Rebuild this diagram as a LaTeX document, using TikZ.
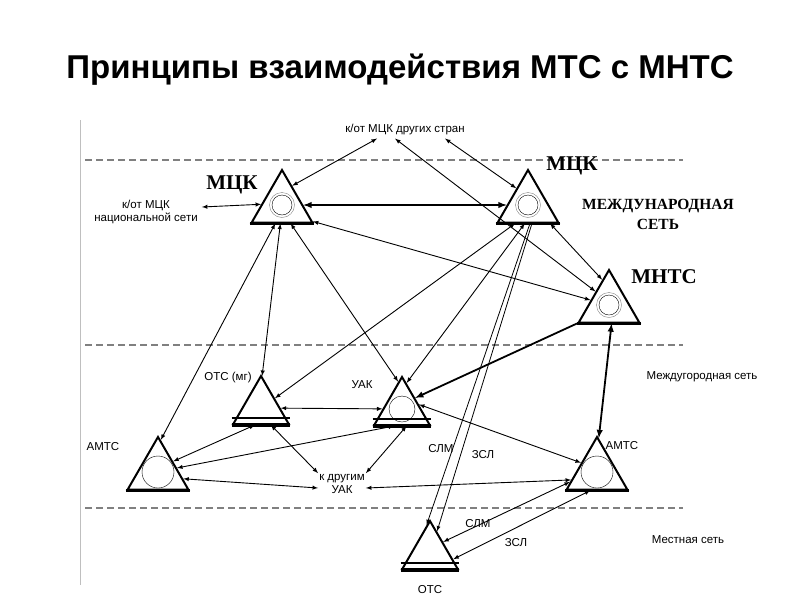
\documentclass[tikz,border=0pt]{standalone}
\usepackage{fontspec}
\setmainfont{Liberation Sans}
\newfontfamily\serifb{Liberation Serif}
\usetikzlibrary{shapes.geometric}
\tikzset{
  stn/.style={regular polygon, regular polygon sides=3, draw, line width=2pt,
    minimum size=70pt, inner sep=0pt},
  small/.style={stn, minimum size=64pt},
  lbl/.style={font=\fontsize{11.5}{13}\selectfont, align=center, inner sep=1pt},
  big/.style={font=\serifb\bfseries\fontsize{21}{22}\selectfont, align=center, inner sep=1pt},
  ln/.style={<->, >=latex, line width=0.9pt},
  tk/.style={<->, >=latex, line width=1.8pt},
  zone/.style={dashed, gray, line width=1.2pt, dash pattern=on 7pt off 4pt}
}
\begin{document}
\begin{tikzpicture}[x=1pt,y=-1pt]
  \useasboundingbox (0,0) rectangle (800,600);
  \node[font=\bfseries\fontsize{33}{36}\selectfont] (title) at (400,70) {Принципы взаимодействия МТС с МНТС};

  %Zones
  \draw[gray!50] (80,120) -- (80,585);
  \draw[zone] (85,160) -- (683,160);
  \draw[zone] (85,345) -- (683,345);
  \draw[zone] (85,508) -- (683,508);

  %Stations
  \node[stn] (m1) at (282,205) {};
  \node[stn] (m2) at (528,205) {};
  \node[stn] (mn) at (609,305) {};
  \node[small] (om) at (261,408) {};
  \node[small] (uak) at (402,409) {};
  \node[stn] (al) at (158,472) {};
  \node[stn] (ar) at (597,472) {};
  \node[small] (ob) at (430,553) {};
  \foreach \s in {m1,m2,mn,om,uak,al,ar,ob}
    \draw[line width=3.5pt] (\s.corner 2) -- (\s.corner 3);
  \foreach \s in {om,uak,ob}
    \draw[line width=2pt] ([yshift=7pt]\s.corner 2) -- ([yshift=7pt]\s.corner 3);
  \foreach \s in {m1,m2,mn} {
    \draw[gray] (\s) circle (12.5pt);
    \draw (\s) circle (10pt);
  }
  \draw (uak) circle (13pt);
  \draw (al) circle (16pt);
  \draw (ar) circle (16pt);

  %Labels
  \node[big] (lm1) at (232,185) {МЦК};
  \node[big] (lm2) at (572,166) {МЦК};
  \node[big] (lmn) at (664,277) {МНТС};
  \node[big, font=\serifb\bfseries\fontsize{15.5}{20}\selectfont] (lint) at (658,214) {МЕЖДУНАРОДНАЯ\\СЕТЬ};
  \node[lbl] (tl) at (405,130) {к/от МЦК других стран};
  \node[lbl] (nat) at (146,212) {к/от МЦК\\национальной сети};
  \node[lbl] (lom) at (228,378) {ОТС (мг)};
  \node[lbl] (luak) at (362,385) {УАК};
  \node[lbl] (lal) at (103,447) {АМТС};
  \node[lbl] (lar) at (622,446) {АМТС};
  \node[lbl] (kdr) at (342,484) {к другим\\УАК};
  \node[lbl] (lob) at (430,590) {ОТС};
  \node[lbl] (s1) at (441,449) {СЛМ};
  \node[lbl] (z1) at (483,455) {ЗСЛ};
  \node[lbl] (s2) at (478,524) {СЛМ};
  \node[lbl] (z2) at (516,543) {ЗСЛ};
  \node[lbl] (lmg) at (702,377) {Междугородная сеть};
  \node[lbl] (lms) at (688,540) {Местная сеть};

  %Lines
  \draw[ln] ([xshift=-28pt,yshift=-2pt]tl.south) -- (m1.62);
  \draw[ln] ([xshift=-10pt,yshift=-2pt]tl.south) -- (mn.135);
  \draw[ln] ([xshift=40pt,yshift=-2pt]tl.south) -- (m2.125);
  \draw[ln] ([xshift=3pt,yshift=5pt]nat.east) -- (m1.178);
  \draw[tk] (m1) -- (m2);
  \draw[ln] (m1.-28) -- (mn.165);
  \draw[ln] (m2.-40) -- (mn.105);
  \draw[ln] (m1.-110) -- (al.85);
  \draw[ln] (m1.-95) -- (om.88);
  \draw[ln] (m1.-65) -- (uak.98);
  \draw[ln] (m2.-125) -- (om.35);
  \draw[ln] (m2.-100) -- (uak.80);
  \draw[->, >=latex, line width=0.8pt] (m2.-84) -- (ob.97);
  \draw[->, >=latex, line width=0.8pt] (m2.-78) -- (ob.72);
  \draw[->, >=latex, line width=1.8pt] (mn.-150) -- (uak.40);
  \draw[tk] (mn.-82) -- (ar.87);
  \draw[ln] (om) -- (uak);
  \draw[ln] (om.-110) -- (al.35);
  \draw[ln] (uak.-115) -- (al.12);
  \draw[ln] (al.-15) -- ([yshift=-4pt]kdr.west);
  \draw[ln] ([yshift=-4pt]kdr.east) -- (ar.197);
  \draw[ln] (om.-60) -- (kdr.north west);
  \draw[ln] (uak.-75) -- (kdr.north east);
  \draw[ln] (uak.15) -- (ar.150);
  \draw[ln] (ar.-160) -- (ob.40);
  \draw[ln] (ar.-110) -- (ob.-15);
\end{tikzpicture}
\end{document}
